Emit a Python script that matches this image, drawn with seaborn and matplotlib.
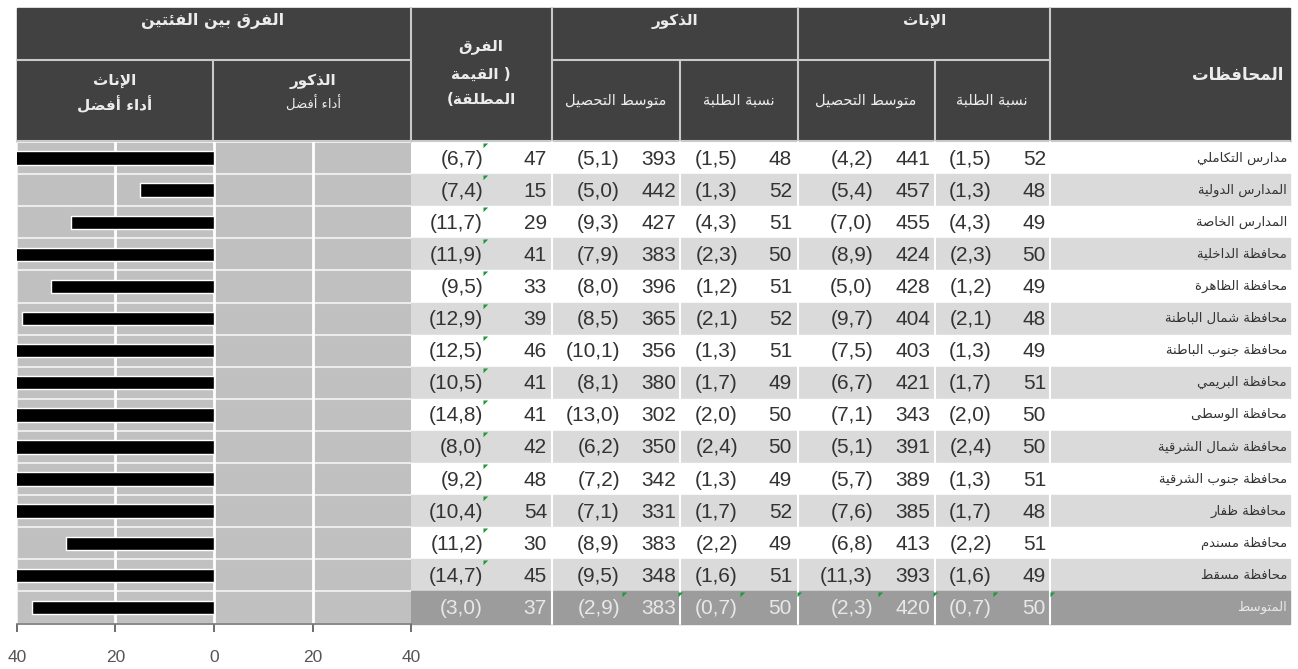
import numpy as np
import pandas as pd
import matplotlib
matplotlib.use("Agg")
import matplotlib.pyplot as plt
import seaborn as sns

names = ["مدارس التكاملي", "المدارس الدولية", "المدارس الخاصة", "محافظة الداخلية",
         "محافظة الظاهرة", "محافظة شمال الباطنة", "محافظة جنوب الباطنة", "محافظة البريمي",
         "محافظة الوسطى", "محافظة شمال الشرقية", "محافظة جنوب الشرقية", "محافظة ظفار",
         "محافظة مسندم", "محافظة مسقط", "المتوسط"]
f_pct = [52, 48, 49, 50, 49, 48, 49, 51, 50, 50, 51, 48, 51, 49, 50]
f_pct_se = [1.5, 1.3, 4.3, 2.3, 1.2, 2.1, 1.3, 1.7, 2.0, 2.4, 1.3, 1.7, 2.2, 1.6, 0.7]
f_mean = [441, 457, 455, 424, 428, 404, 403, 421, 343, 391, 389, 385, 413, 393, 420]
f_mean_se = [4.2, 5.4, 7.0, 8.9, 5.0, 9.7, 7.5, 6.7, 7.1, 5.1, 5.7, 7.6, 6.8, 11.3, 2.3]
m_pct = [48, 52, 51, 50, 51, 52, 51, 49, 50, 50, 49, 52, 49, 51, 50]
m_pct_se = [1.5, 1.3, 4.3, 2.3, 1.2, 2.1, 1.3, 1.7, 2.0, 2.4, 1.3, 1.7, 2.2, 1.6, 0.7]
m_mean = [393, 442, 427, 383, 396, 365, 356, 380, 302, 350, 342, 331, 383, 348, 383]
m_mean_se = [5.1, 5.0, 9.3, 7.9, 8.0, 8.5, 10.1, 8.1, 13.0, 6.2, 7.2, 7.1, 8.9, 9.5, 2.9]
diff = [47, 15, 29, 41, 33, 39, 46, 41, 41, 42, 48, 54, 30, 45, 37]
diff_se = [6.7, 7.4, 11.7, 11.9, 9.5, 12.9, 12.5, 10.5, 14.8, 8.0, 9.2, 10.4, 11.2, 14.7, 3.0]
axis_ticks = [-40, -20, 0, 20, 40]

# ---- minimal Arabic shaping (presentation forms + RTL order) ----
FORMS = {'ء': (0xFE80, 1), 'آ': (0xFE81, 2), 'أ': (0xFE83, 2), 'ؤ': (0xFE85, 2), 'إ': (0xFE87, 2),
         'ئ': (0xFE89, 4), 'ا': (0xFE8D, 2), 'ب': (0xFE8F, 4), 'ة': (0xFE93, 2), 'ت': (0xFE95, 4),
         'ث': (0xFE99, 4), 'ج': (0xFE9D, 4), 'ح': (0xFEA1, 4), 'خ': (0xFEA5, 4), 'د': (0xFEA9, 2),
         'ذ': (0xFEAB, 2), 'ر': (0xFEAD, 2), 'ز': (0xFEAF, 2), 'س': (0xFEB1, 4), 'ش': (0xFEB5, 4),
         'ص': (0xFEB9, 4), 'ض': (0xFEBD, 4), 'ط': (0xFEC1, 4), 'ظ': (0xFEC5, 4), 'ع': (0xFEC9, 4),
         'غ': (0xFECD, 4), 'ف': (0xFED1, 4), 'ق': (0xFED5, 4), 'ك': (0xFED9, 4), 'ل': (0xFEDD, 4),
         'م': (0xFEE1, 4), 'ن': (0xFEE5, 4), 'ه': (0xFEE9, 4), 'و': (0xFEED, 2), 'ى': (0xFEEF, 2),
         'ي': (0xFEF1, 4)}
LAM_ALEF = {'آ': 0xFEF5, 'أ': 0xFEF7, 'إ': 0xFEF9, 'ا': 0xFEFB}


def ar(text):
    toks = []
    i = 0
    while i < len(text):
        if text[i] == 'ل' and i + 1 < len(text) and text[i + 1] in LAM_ALEF:
            toks.append(('LA', text[i + 1]))
            i += 2
        else:
            toks.append((text[i], None))
            i += 1

    def join_next(t):
        return t[0] in FORMS and FORMS[t[0]][1] == 4

    def join_prev(t):
        return t[0] == 'LA' or (t[0] in FORMS and FORMS[t[0]][1] > 1)

    out = []
    for k, t in enumerate(toks):
        p = k > 0 and join_next(toks[k - 1]) and join_prev(t)
        n = k + 1 < len(toks) and join_next(t) and join_prev(toks[k + 1])
        if t[0] == 'LA':
            out.append(chr(LAM_ALEF[t[1]] + int(p)))
        elif t[0] in FORMS:
            base, nf = FORMS[t[0]]
            if nf == 1:
                off = 0
            elif nf == 2:
                off = int(p)
            else:
                off = 3 if (p and n) else 1 if p else 2 if n else 0
            out.append(chr(base + off))
        else:
            out.append(t[0])
    return ''.join(reversed(out))


def fmt_se(v):
    return "(" + f"{v:.1f}".replace(".", ",") + ")"


sns.set_theme(style="white")
plt.rcParams['font.family'] = ['Liberation Sans', 'DejaVu Sans']

W, H = 1298, 669
fig = plt.figure(figsize=(W / 100, H / 100), dpi=100)

# layout in pixels
top, row_h = 142, 32.1
n = len(names)
bottom = top + n * row_h
panel_l, panel_r = 17, 411

# overlay axes in pixel units for header and table cells
ov = fig.add_axes([0, 0, 1, 1])
ov.set_xlim(0, W)
ov.set_ylim(H, 0)
ov.axis("off")

hdr_bg, hdr_line, hdr_txt = "#414141", "#c9c9c9", "#ececec"
ov.add_patch(plt.Rectangle((panel_l, 8), 1290 - panel_l, top - 8, color=hdr_bg, zorder=1))
for x in [411, 552, 798, 1050]:
    ov.plot([x, x], [8, top], color=hdr_line, lw=1.5, zorder=2)
for x in [213, 680, 935]:
    ov.plot([x, x], [60, top], color=hdr_line, lw=1.5, zorder=2)
ov.plot([panel_l, 411], [60, 60], color=hdr_line, lw=1.5, zorder=2)
ov.plot([552, 1050], [60, 60], color=hdr_line, lw=1.5, zorder=2)
ov.plot([panel_l, 1290], [top - 1, top - 1], color=hdr_line, lw=1.5, zorder=2)

hk = dict(color=hdr_txt, ha="center", va="center", family=["DejaVu Sans"], zorder=3)
ov.text(213, 21, ar("الفرق بين الفئتين"), fontsize=11.5, weight="bold", **hk)
ov.text(115, 81, ar("الإناث"), fontsize=11, weight="bold", **hk)
ov.text(115, 104, ar("أداء أفضل"), fontsize=11, weight="bold", **hk)
ov.text(313, 81, ar("الذكور"), fontsize=11, weight="bold", **hk)
ov.text(313, 104, ar("أداء أفضل"), fontsize=9.5, **hk)
ov.text(481, 46, ar("الفرق"), fontsize=11, weight="bold", **hk)
# the bracketed phrase wraps over two lines; the brackets sit as in the right-to-left original
ov.text(481, 74, ar("القيمة") + " )", fontsize=11, weight="bold", **hk)
ov.text(481, 100, "(" + ar("المطلقة"), fontsize=11, weight="bold", **hk)
ov.text(675, 21, ar("الذكور"), fontsize=11, weight="bold", **hk)
ov.text(925, 21, ar("الإناث"), fontsize=11, weight="bold", **hk)
for cx, lab in [(616, "متوسط التحصيل"), (739, "نسبة الطلبة"), (866, "متوسط التحصيل"), (992, "نسبة الطلبة")]:
    ov.text(cx, 100, ar(lab), fontsize=10.5, **hk)
ov.text(1283, 75, ar("المحافظات"), fontsize=12, weight="bold",
        **{**hk, "ha": "right"})

# table body
cols = [(483, [fmt_se(v) for v in diff_se]), (547, [str(v) for v in diff]),
        (620, [fmt_se(v) for v in m_mean_se]), (676, [str(v) for v in m_mean]),
        (738, [fmt_se(v) for v in m_pct_se]), (792, [str(v) for v in m_pct]),
        (873, [fmt_se(v) for v in f_mean_se]), (930, [str(v) for v in f_mean]),
        (992, [fmt_se(v) for v in f_pct_se]), (1046, [str(v) for v in f_pct])]
for i in range(n):
    y0 = top + i * row_h
    last = i == n - 1
    bg = "#9c9c9c" if last else ("#dadada" if i % 2 else "white")
    ov.add_patch(plt.Rectangle((411, y0), 1290 - 411, row_h, color=bg, zorder=1))
    tc = "#e8e8e8" if last else "#333333"
    for x, vals in cols:
        ov.text(x, y0 + row_h / 2 + 1, vals[i], ha="right", va="center", fontsize=15,
                color=tc, zorder=3)
    ov.text(1287, y0 + row_h / 2, ar(names[i]), ha="right", va="center", fontsize=9.5,
            color=tc, family=["DejaVu Sans"], zorder=3)
for x in [552, 680, 798, 935, 1050]:
    ov.plot([x, x], [top, bottom], color="white", lw=1.5, zorder=2)

# green error-flag triangles (Excel style)
tri = [(0, 0), (1, 0), (0, -1)]
flag_x = [483] * (n - 1) + [622, 678, 740, 797, 878, 933, 993, 1050]
flag_y = [top + i * row_h + 1 for i in range(n - 1)] + [top + (n - 1) * row_h + 1] * 8
ov.scatter(flag_x, flag_y, marker=tri, s=45, color="#1a9a3a", linewidths=0, zorder=4)

# ---- bar panel ----
ax = fig.add_axes([panel_l / W, 1 - bottom / H, (panel_r - panel_l) / W, (bottom - top) / H])
df = pd.DataFrame({"name": names, "gap": [-v for v in diff]})
sns.barplot(data=df, x="gap", y="name", orient="h", color="black", width=0.42,
            saturation=1, ax=ax, zorder=3)
ax.set_facecolor("#c0c0c0")
ax.set_xlim(axis_ticks[0], axis_ticks[-1])
for b in np.arange(-0.5, n, 1.0):
    ax.axhline(b, color="#ececec", lw=1.5, zorder=2)
for t in [-20, 0, 20]:
    ax.axvline(t, color="white", lw=2, zorder=2)
ax.axvline(-40, color="#ececec", lw=1.5, zorder=2)
ax.set_yticks([])
ax.set_xticks(axis_ticks)
ax.set_xticklabels([str(abs(t)) for t in axis_ticks])
ax.set_xlabel("")
ax.set_ylabel("")
for s in ["top", "left", "right"]:
    ax.spines[s].set_visible(False)
ax.spines["bottom"].set_color("#777777")
ax.spines["bottom"].set_linewidth(1.2)
ax.tick_params(axis="x", length=6, width=1.2, color="#555555", direction="out",
               labelsize=12.5, labelcolor="#555555", pad=13, bottom=True)

fig.savefig("out.png", dpi=100, facecolor="white")
